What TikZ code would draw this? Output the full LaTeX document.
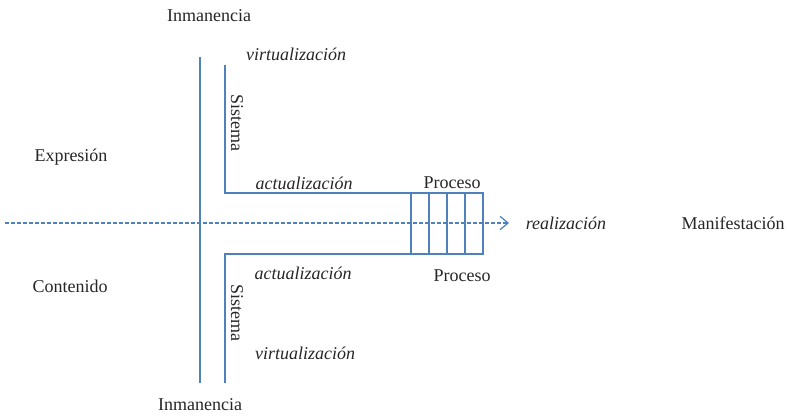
\documentclass[tikz,border=0pt]{standalone}
\usepackage{fontspec}
\setmainfont{Liberation Serif}
\usetikzlibrary{arrows.meta}
\definecolor{lineblue}{HTML}{4F81BD}
\tikzset{
  ln/.style={draw=lineblue, line width=0.9pt},
  lbl/.style={inner sep=0pt, font=\fontsize{13.5}{16}\selectfont, text=black!85},
  ilbl/.style={lbl, font=\fontsize{13.5}{16}\selectfont\itshape},
}
\begin{document}
\begin{tikzpicture}[x=0.75pt, y=-0.75pt]
\useasboundingbox (0,0) rectangle (787,415);
% labels
\node[lbl] (inmT) at (209,16) {Inmanencia};
\node[lbl] (inmB) at (200,405) {Inmanencia};
\node[lbl] (expr) at (71,157) {Expresión};
\node[lbl] (cont) at (70,286) {Contenido};
\node[ilbl] (virT) at (296,54) {virtualización};
\node[ilbl] (actT) at (304,183) {actualización};
\node[ilbl] (actB) at (303,273) {actualización};
\node[ilbl] (virB) at (305,353) {virtualización};
\node[lbl, rotate=-90] (sisT) at (237,123) {Sistema};
\node[lbl, rotate=-90] (sisB) at (237,313) {Sistema};
\node[lbl] (proT) at (452,183) {Proceso};
\node[lbl] (proB) at (462,276) {Proceso};
\node[ilbl] (real) at (566,223) {realización};
\node[lbl] (mani) at (733,223) {Manifestación};
% coordinates
\coordinate (mvT) at (200,57);
\coordinate (mvB) at (200,383);
\coordinate (sT) at (225,65);
\coordinate (sTc) at (225,193);
\coordinate (sTe) at (483,193);
\coordinate (sB) at (225,383);
\coordinate (sBc) at (225,254);
\coordinate (sBe) at (483,254);
\coordinate (dS) at (5,223);
\coordinate (dE) at (509,223);
% lines
\draw[ln] (mvT) -- (mvB);
\draw[ln] (sT) -- (sTc) -- (sTe) -- (sBe) -- (sBc) -- (sB);
\foreach \xx in {411,429,447,465} {
  \draw[ln] (\xx,193) -- (\xx,254);
}
\draw[ln, dash pattern=on 3pt off 1.5pt, -{Straight Barb[length=6pt,width=10pt,line width=0.9pt]}] (dS) -- (dE);
\end{tikzpicture}
\end{document}
